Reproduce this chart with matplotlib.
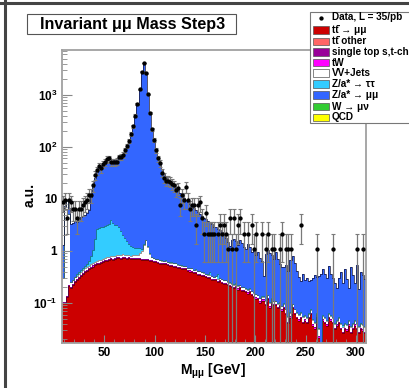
import matplotlib.pyplot as plt
import numpy as np
from matplotlib.patches import Rectangle
from matplotlib.lines import Line2D

plt.rcParams['font.family'] = ['Liberation Sans', 'DejaVu Sans']
plt.rcParams['font.weight'] = 'bold'
plt.rcParams['mathtext.default'] = 'regular'

# 2 GeV bins from 8 to 310 GeV
edges = np.arange(8, 312, 2)
centers = edges[:-1] + 1

# ttbar -> mumu
tt_mumu = [
    0.10, 0.10, 0.13, 0.21, 0.19, 0.22, 0.25, 0.27, 0.30, 0.33,
    0.36, 0.39, 0.41, 0.44, 0.47, 0.50, 0.53, 0.56, 0.57, 0.59,
    0.61, 0.63, 0.65, 0.67, 0.70, 0.68, 0.71, 0.72, 0.73, 0.71,
    0.74, 0.73, 0.71, 0.72, 0.70, 0.71, 0.70, 0.69, 0.70, 0.68,
    0.68, 0.66, 0.66, 0.64, 0.63, 0.61, 0.60, 0.59, 0.57, 0.56,
    0.55, 0.56, 0.53, 0.52, 0.52, 0.50, 0.50, 0.47, 0.46, 0.45,
    0.44, 0.44, 0.41, 0.40, 0.40, 0.37, 0.38, 0.35, 0.35, 0.33,
    0.33, 0.31, 0.30, 0.30, 0.28, 0.27, 0.28, 0.25, 0.26, 0.24,
    0.23, 0.23, 0.22, 0.21, 0.20, 0.19, 0.20, 0.18, 0.19, 0.17,
    0.17, 0.16, 0.15, 0.16, 0.14, 0.13, 0.12, 0.12, 0.10, 0.11,
    0.11, 0.09, 0.12, 0.08, 0.10, 0.09, 0.09, 0.08, 0.085, 0.07,
    0.08, 0.06, 0.04, 0.05, 0.08, 0.06, 0.05, 0.045, 0.05, 0.04,
    0.045, 0.04, 0.05, 0.06, 0.035, 0.03, 0.05, 0.02, 0.0, 0.045,
    0.04, 0.035, 0.05, 0.045, 0.04, 0.03, 0.035, 0.04, 0.03, 0.025,
    0.03, 0.028, 0.035, 0.025, 0.03, 0.035, 0.03, 0.025, 0.03, 0.028,
    0.025,
]

# tW
tw = [
    0.005, 0.005, 0.006, 0.010, 0.010, 0.011, 0.012, 0.013, 0.015, 0.016,
    0.018, 0.020, 0.020, 0.022, 0.023, 0.025, 0.026, 0.028, 0.028, 0.030,
    0.030, 0.031, 0.032, 0.033, 0.034, 0.033, 0.035, 0.035, 0.035, 0.034,
    0.035, 0.035, 0.034, 0.034, 0.033, 0.034, 0.033, 0.033, 0.033, 0.032,
    0.032, 0.031, 0.031, 0.030, 0.030, 0.029, 0.028, 0.028, 0.027, 0.027,
    0.026, 0.026, 0.025, 0.025, 0.025, 0.024, 0.024, 0.023, 0.022, 0.022,
    0.021, 0.021, 0.020, 0.020, 0.019, 0.018, 0.018, 0.017, 0.017, 0.016,
    0.016, 0.015, 0.015, 0.015, 0.014, 0.014, 0.014, 0.013, 0.013, 0.012,
    0.012, 0.012, 0.011, 0.011, 0.010, 0.010, 0.010, 0.009, 0.010, 0.009,
    0.009, 0.008, 0.008, 0.008, 0.007, 0.007, 0.007, 0.006, 0.006, 0.006,
    0.006, 0.005, 0.006, 0.005, 0.005, 0.005, 0.005, 0.004, 0.005, 0.004,
    0.004, 0.004, 0.003, 0.004, 0.004, 0.004, 0.003, 0.003, 0.003, 0.003,
    0.003, 0.003, 0.003, 0.004, 0.003, 0.003, 0.003, 0.002, 0.004, 0.003,
    0.003, 0.003, 0.003, 0.003, 0.003, 0.002, 0.003, 0.003, 0.002, 0.002,
    0.002, 0.002, 0.003, 0.002, 0.002, 0.003, 0.002, 0.002, 0.002, 0.002,
    0.002,
]

# VV+Jets
vv = [
    0.20, 7.0, 9.0, 5.0, 0.05, 0.05, 0.05, 0.05, 0.05, 0.05,
    0.05, 0.05, 0.05, 0.05, 0.06, 0.06, 0.06, 0.06, 0.06, 0.06,
    0.07, 0.07, 0.07, 0.07, 0.07, 0.07, 0.07, 0.08, 0.08, 0.08,
    0.08, 0.08, 0.08, 0.08, 0.08, 0.09, 0.10, 0.12, 0.18, 0.30,
    0.60, 0.90, 0.50, 0.20, 0.10, 0.08, 0.07, 0.07, 0.06, 0.06,
    0.06, 0.06, 0.06, 0.05, 0.05, 0.05, 0.05, 0.05, 0.05, 0.05,
    0.05, 0.05, 0.04, 0.04, 0.04, 0.04, 0.04, 0.04, 0.04, 0.04,
    0.035, 0.035, 0.035, 0.03, 0.03, 0.03, 0.03, 0.03, 0.03, 0.03,
    0.03, 0.03, 0.025, 0.025, 0.025, 0.025, 0.025, 0.025, 0.02, 0.02,
    0.02, 0.02, 0.02, 0.02, 0.02, 0.02, 0.02, 0.015, 0.015, 0.015,
    0.015, 0.015, 0.015, 0.015, 0.015, 0.012, 0.012, 0.012, 0.012, 0.012,
    0.012, 0.010, 0.010, 0.010, 0.010, 0.010, 0.010, 0.010, 0.010, 0.010,
    0.008, 0.008, 0.008, 0.008, 0.008, 0.008, 0.008, 0.008, 0.008, 0.008,
    0.007, 0.007, 0.007, 0.007, 0.007, 0.007, 0.007, 0.007, 0.007, 0.007,
    0.006, 0.006, 0.006, 0.006, 0.006, 0.006, 0.006, 0.006, 0.006, 0.006,
    0.006,
]

# Z/a* -> tautau
z_tautau = [
    0, 0, 0, 0, 0, 0, 0, 0.02, 0.03, 0.04,
    0.05, 0.06, 0.08, 0.12, 0.25, 0.45, 1.1, 2.0, 2.1, 2.2,
    2.2, 2.3, 2.4, 2.5, 3.1, 2.6, 2.4, 2.3, 2.1, 1.6,
    1.2, 0.95, 0.70, 0.55, 0.42, 0.35, 0.30, 0.28, 0.25, 0.10,
    0.06, 0.05, 0.04, 0.03, 0.02, 0.02, 0.015, 0.015, 0.01, 0.01,
    0.01, 0.01, 0.01, 0.01, 0.008, 0.008, 0.008, 0.008, 0.006, 0.006,
    0.006, 0.006, 0.005, 0.005, 0.005, 0.005, 0.005, 0.005, 0.005, 0.005,
    0.005, 0.005, 0.005, 0.05, 0.004, 0.004, 0.004, 0.06, 0.004, 0.004,
    0.003, 0.003, 0.003, 0.003, 0.003, 0.003, 0.003, 0.003, 0.003, 0.003,
    0.003, 0.003, 0.003, 0.003, 0.003, 0.003, 0.003, 0.003, 0.003, 0.003,
    0.002, 0.002, 0.002, 0.002, 0.002, 0.002, 0.002, 0.002, 0.002, 0.002,
    0.002, 0.002, 0.002, 0.002, 0.002, 0.002, 0.002, 0.002, 0.002, 0.002,
    0.002, 0.002, 0.002, 0.002, 0.002, 0.002, 0.002, 0.002, 0.002, 0.002,
    0.002, 0.002, 0.002, 0.002, 0.002, 0.002, 0.002, 0.002, 0.002, 0.002,
    0.002, 0.002, 0.002, 0.002, 0.002, 0.002, 0.002, 0.002, 0.002, 0.002,
    0.002,
]

# Z/a* -> mumu
z_mumu = [
    1.0, 0.3, 0.3, 1.5, 3.0, 3.2, 3.5, 3.3, 3.8, 4.0,
    4.2, 4.5, 4.8, 5.5, 10, 16, 24, 30, 36, 39,
    42, 44, 46, 47, 49, 51, 53, 56, 61, 66,
    72, 84, 99, 124, 164, 234, 369, 640, 1250, 2600,
    3900, 2500, 1000, 440, 220, 135, 87, 61, 47, 37,
    30, 26, 23, 21, 19, 17, 15.5, 14, 12.5, 11,
    10, 9.0, 8.2, 7.6, 6.9, 6.3, 5.8, 5.2, 4.8, 4.4,
    4.0, 3.7, 3.4, 3.2, 2.9, 2.6, 2.6, 2.3, 2.2, 2.0,
    1.9, 1.5, 1.2, 1.0, 1.4, 1.5, 1.3, 1.1, 1.4, 1.2,
    1.0, 0.9, 1.2, 1.0, 0.8, 0.9, 0.7, 0.8, 0.6, 0.5,
    0.2, 0.75, 0.9, 0.8, 0.7, 0.6, 0.85, 0.6, 0.45, 0.4,
    0.4, 0.45, 0.35, 0.6, 0.7, 0.5, 0.35, 0.25, 0.2, 0.3,
    0.22, 0.25, 0.2, 0.2, 0.25, 0.3, 0.25, 0.3, 0.35, 0.4,
    0.3, 0.25, 0.45, 0.3, 0.25, 0.2, 0.15, 0.25, 0.35, 0.2,
    0.4, 0.25, 0.15, 0.45, 0.3, 0.2, 0.5, 0.15, 0.35, 0.3,
    0.25,
]

# data: events per bin, each event weighted to L = 35/pb
data_counts = [
    8, 9, 4, 9, 8, 6, 6, 4, 6, 6,
    7, 8, 9, 11, 11, 17, 27, 33, 40, 36,
    44, 47, 54, 56, 47, 47, 47, 49, 59, 61,
    65, 81, 98, 123, 165, 234, 374, 636, 1206, 2617,
    3832, 2430, 953, 420, 206, 128, 81, 56, 45, 30,
    24, 21, 21, 20, 18, 17, 14, 15, 7, 11,
    9, 16, 9, 6, 7, 7, 3, 7, 8, 4,
    2, 5, 2, 2, 2, 2, 0, 2, 3, 2,
    3, 2, 1, 4, 1, 4, 1, 3, 4, 0,
    2, 0, 2, 0, 3, 1, 2, 0, 0, 2,
    0, 1, 2, 0, 1, 1, 0, 0, 1, 2,
    0, 1, 1, 1, 0, 0, 0, 0, 3, 0,
    0, 0, 0, 0, 0, 0, 1, 0, 0, 0,
    0, 0, 0, 0, 1, 0, 0, 0, 0, 0,
    0, 0, 0, 0, 0, 0, 1, 0, 0, 1,
    0,
]
data_weight = 1.07

stack = [
    (tt_mumu, '#cc0000', '#550000'),
    (tw, '#ff00ff', '#550055'),
    (vv, '#ffffff', '#666666'),
    (z_tautau, '#33ccff', '#115566'),
    (z_mumu, '#3366ff', '#111133'),
]

legend_entries = [
    ('tt\u0304 → μμ', '#cc0000'),
    ('tt\u0304 other', '#ff6666'),
    ('single top s,t-ch', '#990099'),
    ('tW', '#ff00ff'),
    ('VV+Jets', '#ffffff'),
    ('Z/a* → ττ', '#33ccff'),
    ('Z/a* → μμ', '#3366ff'),
    ('W → μν', '#33cc33'),
    ('QCD', '#ffff00'),
]

fig = plt.figure(figsize=(4.09, 3.88), dpi=100)
ax = fig.add_axes([62 / 409, 45 / 388, 304 / 409, 293 / 388])

floor = 1e-3
base = np.full(len(centers), floor)
for vals, fc, ec in stack:
    top = base + np.array(vals)
    ax.stairs(top, edges, baseline=base, fill=True, color=fc, lw=0)
    ax.stairs(top, edges, baseline=None, color=ec, lw=0.5)
    base = top

counts = np.array(data_counts, dtype=float)
mask = counts > 0
y = counts[mask] * data_weight
err = np.sqrt(counts[mask]) * data_weight
err_lo = np.minimum(err, y - floor)
ax.errorbar(centers[mask], y, yerr=[err_lo, err], fmt='o', ms=2.1,
            color='black', ecolor='#7a7a7a', elinewidth=0.9, capsize=1.6,
            capthick=0.8, zorder=5)

ax.set_yscale('log')
ax.set_xlim(8, 310)
ax.set_ylim(0.017, 7300)

ax.set_xticks([50, 100, 150, 200, 250, 300])
ax.set_xticks(np.arange(10, 311, 10), minor=True)
ax.set_yticks([0.1, 1, 10, 100, 1000])
ax.set_yticklabels([r'10$^{-1}$', '1', '10', r'10$^{2}$', r'10$^{3}$'])
ax.tick_params(axis='both', which='both', direction='in', colors='#888888',
               labelcolor='black', labelsize=8.5)
ax.tick_params(axis='y', which='major', length=7)
ax.tick_params(axis='y', which='minor', length=3.5)
ax.tick_params(axis='x', which='major', length=6, pad=3)
ax.tick_params(axis='x', which='minor', length=3)
for s in ax.spines.values():
    s.set_color('#a0a0a0')
    s.set_linewidth(1.3)

fig.text(30 / 409, 1 - 195 / 388, 'a.u.', rotation=90, ha='center',
         va='center', fontsize=10, fontweight='bold')
fig.text(213 / 409, 1 - 371 / 388, r'M$_{μμ}$ [GeV]', ha='center',
         va='center', fontsize=10, fontweight='bold')

# title box
fig.add_artist(Rectangle((27 / 409, 1 - 34 / 388), 209 / 409, 20 / 388,
                         transform=fig.transFigure, facecolor='white',
                         edgecolor='#555555', lw=0.8))
fig.text(133 / 409, 1 - 24 / 388, 'Invariant μμ Mass Step3', ha='center',
         va='center', fontsize=11.6, fontweight='bold')

# legend box
fig.add_artist(Rectangle((310 / 409, 1 - 123 / 388), 120 / 409, 111 / 388,
                         transform=fig.transFigure, facecolor='white',
                         edgecolor='#777777', lw=0.8, zorder=10))
row_y = [17.5, 30, 41.5, 52, 62.5, 73, 84, 95, 106.5, 117.5]
fig.add_artist(Line2D([321 / 409], [1 - row_y[0] / 388], marker='o', ms=2.1,
                      color='black', transform=fig.transFigure, zorder=11))
fig.text(332 / 409, 1 - row_y[0] / 388, 'Data, L = 35/pb', va='center',
         fontsize=7.2, fontweight='bold', zorder=11)
for (label, col), ry in zip(legend_entries, row_y[1:]):
    fig.add_artist(Rectangle((313 / 409, 1 - (ry + 3.5) / 388), 16 / 409,
                             7 / 388, transform=fig.transFigure,
                             facecolor=col, edgecolor='#555555', lw=0.5,
                             zorder=11))
    fig.text(332 / 409, 1 - ry / 388, label, va='center', fontsize=7.2,
             fontweight='bold', zorder=11)

# canvas frame
fig.add_artist(Line2D([0, 1], [1 - 3 / 388, 1 - 3 / 388], color='#444444',
                      lw=2.2, transform=fig.transFigure))
fig.add_artist(Line2D([4.5 / 409, 4.5 / 409], [0, 1], color='#444444',
                      lw=2.2, transform=fig.transFigure))

fig.savefig('out.png', dpi=100)
